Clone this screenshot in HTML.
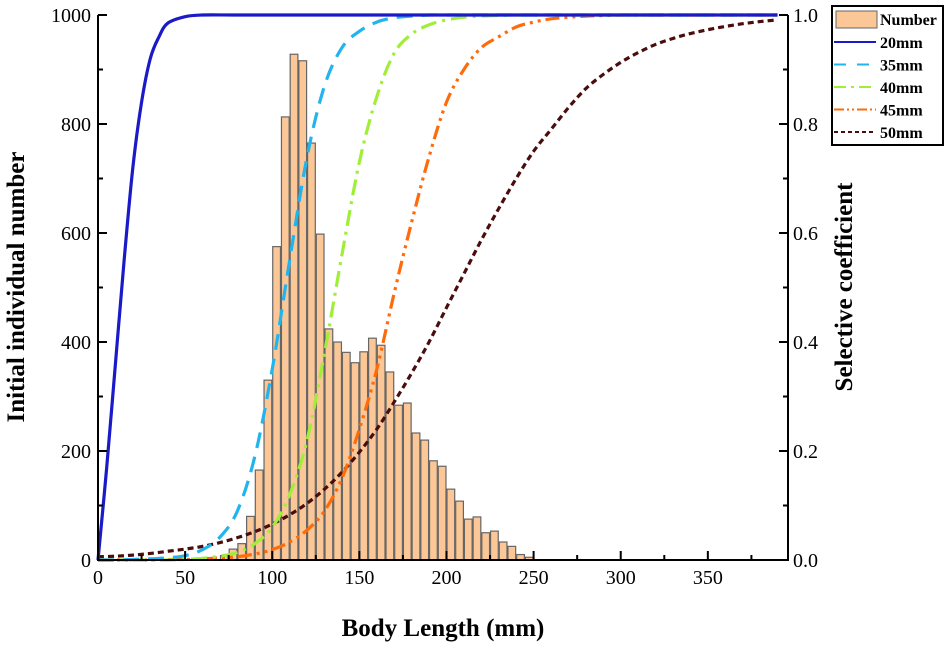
<!DOCTYPE html>
<html><head><meta charset="utf-8">
<style>
html,body{margin:0;padding:0;background:#fff;}
svg{display:block;font-family:"Liberation Serif",serif;}
</style></head>
<body>
<svg id="chart" width="950" height="645" viewBox="0 0 950 645"></svg>
<script>
const binStarts=[70,75,80,85,90,95,100,105,110,115,120,125,130,135,140,145,150,155,160,165,170,175,180,185,190,195,200,205,210,215,220,225,230,235,240,245];
const binCounts=[8,20,30,80,165,330,575,813,928,916,765,598,424,400,381,362,382,407,394,345,284,288,233,220,182,172,130,108,75,79,50,53,33,25,10,5];
const xTicks=[0,50,100,150,200,250,300,350];
const yLeftTicks=[0,200,400,600,800,1000];
const yRightTicks=["0.0","0.2","0.4","0.6","0.8","1.0"];
const x20=[0,5,10,15,20,25,30,35,40,50,60,80,120,200,300,390];
const s20=[0,0.17,0.36,0.55,0.72,0.84,0.92,0.96,0.985,0.997,1,1,1,1,1,1];
const xs=[0,10,20,30,40,50,60,70,80,90,100,110,120,130,140,150,160,170,180,190,200,210,220,230,240,250,260,270,280,290,300,310,320,330,340,350,360,370,380,390];
const s35=[0,0,0.001,0.002,0.004,0.008,0.019,0.042,0.09,0.19,0.35,0.55,0.74,0.87,0.94,0.97,0.987,0.995,0.998,1,1,1,1,1,1,1,1,1,1,1,1,1,1,1,1,1,1,1,1,1];
const s40=[0,0,0,0,0,0.001,0.003,0.007,0.014,0.03,0.06,0.12,0.22,0.38,0.56,0.73,0.85,0.93,0.965,0.982,0.991,0.996,0.998,0.999,1,1,1,1,1,1,1,1,1,1,1,1,1,1,1,1];
const s45=[0,0,0,0,0.001,0.001,0.002,0.004,0.006,0.011,0.019,0.033,0.055,0.09,0.15,0.24,0.35,0.49,0.62,0.74,0.84,0.9,0.94,0.96,0.978,0.987,0.993,0.996,0.998,0.999,1,1,1,1,1,1,1,1,1,1];
const s50=[0.006,0.007,0.009,0.012,0.016,0.02,0.025,0.032,0.041,0.052,0.066,0.083,0.104,0.13,0.161,0.198,0.24,0.29,0.343,0.4,0.463,0.525,0.587,0.645,0.7,0.75,0.79,0.83,0.865,0.891,0.913,0.931,0.946,0.957,0.966,0.973,0.979,0.984,0.988,0.991];

const NS="http://www.w3.org/2000/svg";
const svg=document.getElementById('chart');
const X0=98,X1=788,Y0=560,Y1=15,XMAX=396;
const xS=v=>X0+v*(X1-X0)/XMAX;
const yL=v=>Y0-v*(Y0-Y1)/1000;
const yR=v=>Y0-v*(Y0-Y1);
function mk(t,a,p){const e=document.createElementNS(NS,t);for(const k in a)e.setAttribute(k,a[k]);(p||svg).appendChild(e);return e;}
function txt(s,a,p){const e=mk('text',a,p);e.textContent=s;return e;}

const gb=mk('g',{});


binStarts.forEach((b,i)=>{
  const r=mk('rect',{x:xS(b)+0.5,y:yL(binCounts[i]),width:xS(b+5)-xS(b)-1,height:Y0-yL(binCounts[i]),fill:'#fbc796',stroke:'#666','stroke-width':1.2},gb);
  
  
});

function path(xa,ya){
  const p=xa.map((x,i)=>[xS(x),yR(ya[i])]);
  let d='M'+p[0][0]+','+p[0][1];
  for(let i=0;i<p.length-1;i++){
    const p0=p[i-1]||p[i],p1=p[i],p2=p[i+1],p3=p[i+2]||p2;
    const c1=[p1[0]+(p2[0]-p0[0])/6,p1[1]+(p2[1]-p0[1])/6];
    const c2=[p2[0]-(p3[0]-p1[0])/6,p2[1]-(p3[1]-p1[1])/6];
    d+=' C'+c1+' '+c2+' '+p2;
  }
  return d;
}
const series=[
 ['curve-50mm',xs,s50,'#4a0c0c','6,4'],
 ['curve-45mm',xs,s45,'#ff6a0a','14,5,3,5,3,5'],
 ['curve-40mm',xs,s40,'#a0ee38','16,6,3,6'],
 ['curve-35mm',xs,s35,'#22b4ee','16,9'],
 ['curve-20mm',x20,s20,'#1a1ac8','']
];
series.forEach(s=>{
  const e=mk('path',{d:path(s[1],s[2]),fill:'none',stroke:s[3],'stroke-width':3.2,'stroke-dasharray':s[4]||'none'});
  
  
});

const ax=mk('g',{stroke:'#000','stroke-width':2,fill:'none'});


mk('line',{x1:X0,y1:Y0,x2:X1,y2:Y0},ax);
mk('line',{x1:X0,y1:Y0+1,x2:X0,y2:Y1},ax);
mk('line',{x1:X1,y1:Y0+1,x2:X1,y2:Y1},ax);
const tg=mk('g',{'font-size':20,fill:'#000'});


xTicks.forEach(t=>{
  mk('line',{x1:xS(t),y1:Y0,x2:xS(t),y2:Y0-9},ax);
  mk('line',{x1:xS(t+25),y1:Y0,x2:xS(t+25),y2:Y0-5},ax);
  const e=txt(String(t),{x:xS(t),y:Y0+24,'text-anchor':'middle'},tg);
  
  
});
yLeftTicks.forEach(t=>{
  mk('line',{x1:X0,y1:yL(t),x2:X0+9,y2:yL(t)},ax);
  if(t<1000) mk('line',{x1:X0,y1:yL(t+100),x2:X0+5,y2:yL(t+100)},ax);
  const e=txt(String(t),{x:X0-7,y:yL(t)+7,'text-anchor':'end'},tg);
  
  
});
yRightTicks.forEach(t=>{
  const v=parseFloat(t);
  mk('line',{x1:X1,y1:yR(v),x2:X1-9,y2:yR(v)},ax);
  if(v<1) mk('line',{x1:X1,y1:yR(v+0.1),x2:X1-5,y2:yR(v+0.1)},ax);
  const e=txt(t,{x:X1+5,y:yR(v)+7,'text-anchor':'start'},tg);
  
  
});
let e;
e=txt('Body Length (mm)',{x:443,y:636,'text-anchor':'middle','font-size':25,'font-weight':'bold'});

e=txt('Initial individual number',{x:0,y:0,'text-anchor':'middle','font-size':25,'font-weight':'bold',transform:'translate(24,287) rotate(-90)'});

e=txt('Selective coefficient',{x:0,y:0,'text-anchor':'middle','font-size':25,'font-weight':'bold',transform:'translate(852,287) rotate(-90)'});


const lg=mk('g',{});


mk('rect',{x:832,y:6,width:111,height:139,fill:'#fff',stroke:'#000','stroke-width':2},lg);
mk('rect',{x:836,y:11,width:41,height:17,fill:'#fbc796',stroke:'#666','stroke-width':1},lg);
e=txt('Number',{x:880,y:25,'font-size':16,'font-weight':'bold'},lg);

const leg=[['20mm','#1a1ac8','none'],['35mm','#22b4ee','12,11'],['40mm','#a0ee38','12,5,3,5'],['45mm','#ff6a0a','10,3,2,3,2,3'],['50mm','#4a0c0c','4,3']];
leg.forEach((l,i)=>{
  const y=42+i*22.5;
  mk('line',{x1:834,y1:y,x2:876,y2:y,stroke:l[1],'stroke-width':2,'stroke-dasharray':l[2]},lg);
  const t=txt(l[0],{x:880,y:y+6,'font-size':16,'font-weight':'bold'},lg);
  
  
});
</script>
</body></html>
